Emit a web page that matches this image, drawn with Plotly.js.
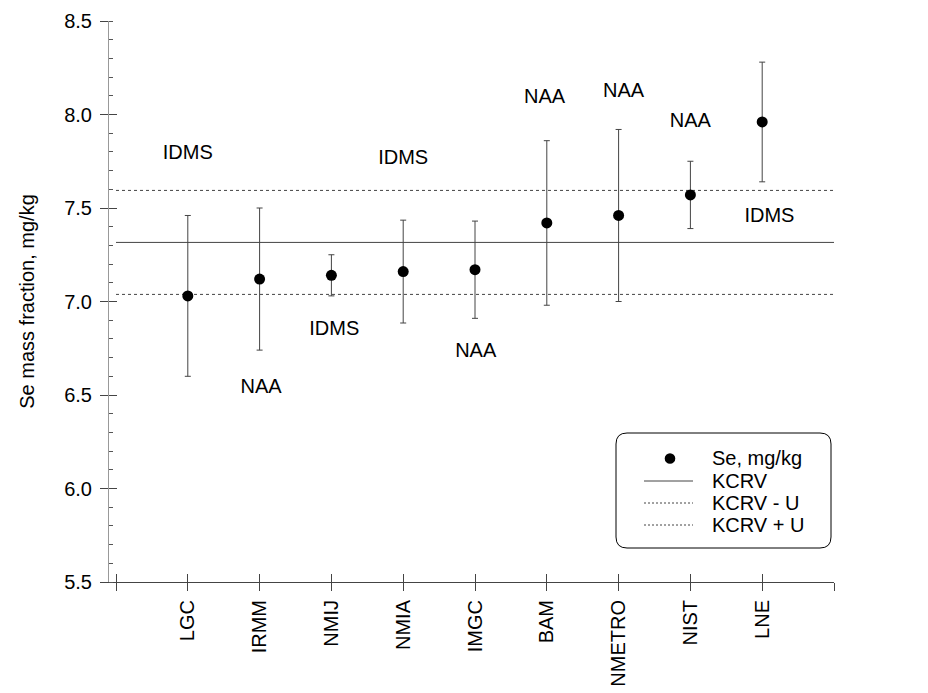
<!DOCTYPE html>
<html><head><meta charset="utf-8">
<script src="https://cdn.plot.ly/plotly-3.0.1.min.js"></script>
<style>html,body{margin:0;padding:0;background:#fff;}#chart{width:928px;height:693px;}</style>
</head><body><div id="chart"></div>
<script>
// ---- data ----
const labs = ['LGC','IRMM','NMIJ','NMIA','IMGC','BAM','NMETRO','NIST','LNE'];
const seValues = [7.03, 7.12, 7.14, 7.16, 7.17, 7.42, 7.46, 7.57, 7.96];
const seUncert = [0.43, 0.38, 0.11, 0.275, 0.26, 0.44, 0.46, 0.18, 0.32];
const methods = ['IDMS','NAA','IDMS','IDMS','NAA','NAA','NAA','NAA','IDMS'];
const methodLabelY = [7.79, 6.54, 6.85, 7.76, 6.73, 8.09, 8.12, 7.96, 7.45];
const kcrv = 7.316;
const relU = 0.038;
const legendNames = ['Se, mg/kg','KCRV','KCRV - U','KCRV + U'];

// ---- layout helpers (pixel -> paper) ----
const W = 928, H = 693;
const M = {l:109, r:94, t:21, b:111};
const PW = W - M.l - M.r, PH = H - M.t - M.b;
const PX = p => (p - M.l) / PW;
const PY = p => (H - M.b - p) / PH;

const FONT = 'Liberation Sans, Arial, sans-serif';
const LINE = '#444';
const labX = labs.map((_, i) => i + 1);
const labelShift = [0, 0.02, 0.04, 0, 0.01, -0.03, 0.07, 0, 0.1];
const upper = kcrv * (1 + relU), lower = kcrv * (1 - relU);

const traces = [
  {x:[0,10], y:[kcrv,kcrv], mode:'lines', line:{color:LINE, width:1}, hoverinfo:'skip', showlegend:false},
  {x:[0,10], y:[lower,lower], mode:'lines', line:{color:LINE, width:1, dash:'3px,3px'}, hoverinfo:'skip', showlegend:false},
  {x:[0,10], y:[upper,upper], mode:'lines', line:{color:LINE, width:1, dash:'3px,3px'}, hoverinfo:'skip', showlegend:false},
  {x:labX, y:seValues, mode:'markers', name:legendNames[0],
   marker:{color:'#000', size:11},
   error_y:{type:'data', array:seUncert, visible:true, color:LINE, thickness:1, width:3},
   showlegend:false},
  {x:labX.map((v,i)=>v+labelShift[i]), y:methodLabelY, mode:'text', text:methods,
   textfont:{family:FONT, size:20, color:'#000'}, textposition:'middle center',
   cliponaxis:false, hoverinfo:'skip', showlegend:false},
  {x:[], y:[], xaxis:'x2', yaxis:'y2', mode:'markers', showlegend:false, hoverinfo:'skip'}
];

const tickVals = [0,1,2,3,4,5,6,7,8,9,10];
const tickText = [''].concat(labs, ['']);
const xr = [-(116 - M.l) / 71.8, 10];

// rounded legend box
function roundRect(x0, y0, x1, y1, r) {
  const P = (x, y) => PX(x) + ',' + PY(y);
  return 'M' + P(x0 + r, y0) + ' L' + P(x1 - r, y0) + ' Q' + P(x1, y0) + ' ' + P(x1, y0 + r) +
    ' L' + P(x1, y1 - r) + ' Q' + P(x1, y1) + ' ' + P(x1 - r, y1) +
    ' L' + P(x0 + r, y1) + ' Q' + P(x0, y1) + ' ' + P(x0, y1 - r) +
    ' L' + P(x0, y0 + r) + ' Q' + P(x0, y0) + ' ' + P(x0 + r, y0) + ' Z';
}
const rowY = [458.5, 481, 503, 525];
const shapes = [
  {type:'path', xref:'paper', yref:'paper', path:roundRect(616, 433, 831, 548, 11), line:{color:'#000', width:1}, fillcolor:'rgba(0,0,0,0)'},
  {type:'circle', xref:'paper', yref:'paper', x0:PX(664.7), x1:PX(675.3), y0:PY(rowY[0]-5.3), y1:PY(rowY[0]+5.3), fillcolor:'#000', line:{color:'#000', width:0}},
  {type:'line', xref:'paper', yref:'paper', x0:PX(644), x1:PX(693), y0:PY(rowY[1]), y1:PY(rowY[1]), line:{color:LINE, width:1}},
  {type:'line', xref:'paper', yref:'paper', x0:PX(644), x1:PX(693), y0:PY(rowY[2]), y1:PY(rowY[2]), line:{color:LINE, width:1, dash:'2px,2px'}},
  {type:'line', xref:'paper', yref:'paper', x0:PX(644), x1:PX(693), y0:PY(rowY[3]), y1:PY(rowY[3]), line:{color:LINE, width:1, dash:'2px,2px'}}
];
const annotations = legendNames.map((t, i) => ({
  text:t, xref:'paper', yref:'paper', x:PX(710), y:PY(rowY[i]), xanchor:'left', yanchor:'middle',
  showarrow:false, font:{family:FONT, size:20, color:'#000'}
}));
annotations.push(
  {text:'+ ' + (relU*100).toFixed(1) + ' %', xref:'x', yref:'y', x:10.29, y:upper, xanchor:'left', yanchor:'middle', showarrow:false, font:{family:FONT, size:20, color:'#000'}},
  {text:'- ' + (relU*100).toFixed(1) + ' %', xref:'x', yref:'y', x:10.26, y:lower, xanchor:'left', yanchor:'middle', showarrow:false, font:{family:FONT, size:20, color:'#000'}}
);

const layout = {
  width:W, height:H, margin:M, paper_bgcolor:'#fff', plot_bgcolor:'#fff',
  font:{family:FONT, size:20, color:'#000'}, showlegend:false,
  xaxis:{range:xr, tickmode:'array', tickvals:tickVals, ticktext:tickText, tickangle:-90,
    ticks:'outside', ticklen:8, tickcolor:LINE, showline:true, linecolor:LINE, linewidth:1,
    showgrid:false, zeroline:false, tickfont:{family:FONT, size:20, color:'#000'}, ticklabelstandoff:1},
  xaxis2:{range:xr, overlaying:'x', anchor:'y2', side:'bottom', tickmode:'array', tickvals:tickVals,
    ticks:'inside', ticklen:8, tickcolor:LINE, showticklabels:false, showline:false, showgrid:false, zeroline:false},
  yaxis:{range:[5.5, 8.5], tickmode:'linear', tick0:5.5, dtick:0.5, tickformat:'.1f',
    ticks:'outside', ticklen:8, tickcolor:LINE, showline:true, linecolor:'#999', linewidth:1,
    showgrid:false, zeroline:false, tickfont:{family:FONT, size:20, color:'#000'}, ticklabelstandoff:4,
    minor:{dtick:0.1, tick0:5.5, ticks:'inside', ticklen:4, tickcolor:'#555', showgrid:false},
    title:{text:'Se mass fraction, mg/kg', font:{family:FONT, size:20, color:'#000'}, standoff:24}},
  yaxis2:{range:[5.5, 8.5], overlaying:'y', anchor:'x2', side:'left', tickmode:'linear', tick0:5.5, dtick:0.5,
    ticks:'inside', ticklen:8, tickcolor:LINE, showticklabels:false, showline:false, showgrid:false, zeroline:false},
  shapes:shapes, annotations:annotations
};

Plotly.newPlot('chart', traces, layout, {staticPlot:true, displayModeBar:false});
</script>
</body></html>
